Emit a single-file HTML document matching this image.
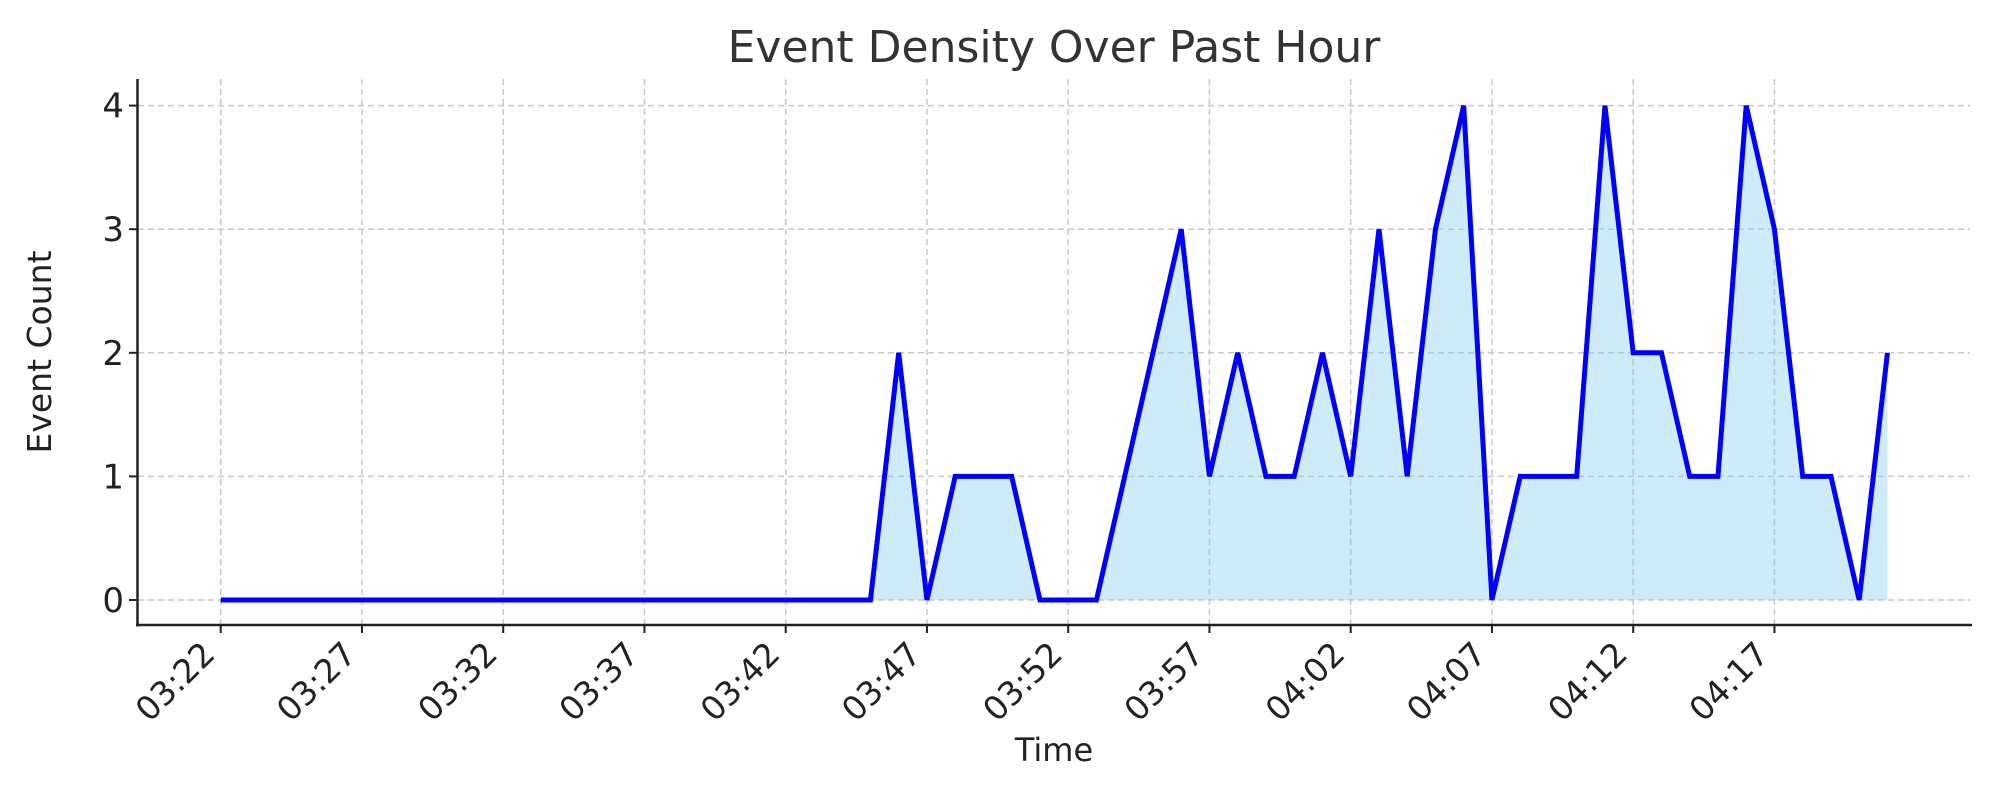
<!DOCTYPE html>
<html><head><meta charset="utf-8"><style>
html,body{margin:0;padding:0;background:#fff;}
svg{display:block;font-family:"DejaVu Sans","Liberation Sans",sans-serif;}
</style></head><body>
<svg id="chart" width="2000" height="800" viewBox="0 0 2000 800" xmlns="http://www.w3.org/2000/svg">
<text x="1054" y="62" text-anchor="middle" font-size="44" fill="#333">Event Density Over Past Hour</text>
<g id="grid"></g>
<path id="area" fill="#87ceeb" fill-opacity="0.4" stroke="none"></path>
<path id="line" fill="none" stroke="#0000ff" stroke-width="5" stroke-linejoin="miter"></path>
<line x1="137.5" y1="79" x2="137.5" y2="626.5" stroke="#222" stroke-width="2.5"/>
<line x1="136" y1="625" x2="1972" y2="625" stroke="#222" stroke-width="2.5"/>
<g id="ticks"></g>
<text x="1054" y="761" text-anchor="middle" font-size="32" fill="#222">Time</text>
<text transform="translate(51,352) rotate(-90)" text-anchor="middle" font-size="33" fill="#222">Event Count</text>
</svg>
<script>
const minutesFromStart = Array.from({length:60},(_,i)=>i);
const eventCounts = [0,0,0,0,0,0,0,0,0,0,0,0,0,0,0,0,0,0,0,0,0,0,0,0,2,0,1,1,1,0,0,0,1,2,3,1,2,1,1,2,1,3,1,3,4,0,1,1,1,4,2,2,1,1,4,3,1,1,0,2];
const xTickMinutes = [0,5,10,15,20,25,30,35,40,45,50,55];
const xTickLabels = ["03:22","03:27","03:32","03:37","03:42","03:47","03:52","03:57","04:02","04:07","04:12","04:17"];
const yTicks = [0,1,2,3,4];

const x = m => 220.7 + m*28.25;
const y = v => 600 - v*123.6;
const NS="http://www.w3.org/2000/svg";
const grid=document.getElementById('grid'), ticks=document.getElementById('ticks');
function mk(tag,attrs,parent){const e=document.createElementNS(NS,tag);for(const k in attrs)e.setAttribute(k,attrs[k]);parent.appendChild(e);return e;}

xTickMinutes.forEach((m,i)=>{
  const g=mk('line',{x1:x(m),x2:x(m),y1:79,y2:625,stroke:'#c8c8c8','stroke-width':1.5,'stroke-dasharray':'6,4'},grid);
  
  
  const t=mk('line',{x1:x(m),x2:x(m),y1:625,y2:633,stroke:'#222','stroke-width':2},ticks);
  
  
  const l=mk('text',{x:0,y:0,'text-anchor':'end','font-size':33,fill:'#222',transform:`translate(${x(m)-4},${656}) rotate(-45)`},ticks);
  l.textContent=xTickLabels[i];
  
  
});
yTicks.forEach(v=>{
  const g=mk('line',{x1:138,x2:1970,y1:y(v),y2:y(v),stroke:'#c8c8c8','stroke-width':1.5,'stroke-dasharray':'6,4'},grid);
  
  
  const t=mk('line',{x1:129,x2:137,y1:y(v),y2:y(v),stroke:'#222','stroke-width':2},ticks);
  
  
  const l=mk('text',{x:124,y:y(v)+12,'text-anchor':'end','font-size':34,fill:'#222'},ticks);
  l.textContent=String(v);
  
  
});
const pts=minutesFromStart.map((m,i)=>[x(m),y(eventCounts[i])]);
document.getElementById('line').setAttribute('d','M'+pts.map(p=>p.join(',')).join(' L'));
const last=minutesFromStart[minutesFromStart.length-1];
document.getElementById('area').setAttribute('d','M'+x(0)+','+y(0)+' L'+pts.map(p=>p.join(',')).join(' L')+' L'+x(last)+','+y(0)+' Z');
</script>
</body></html>
